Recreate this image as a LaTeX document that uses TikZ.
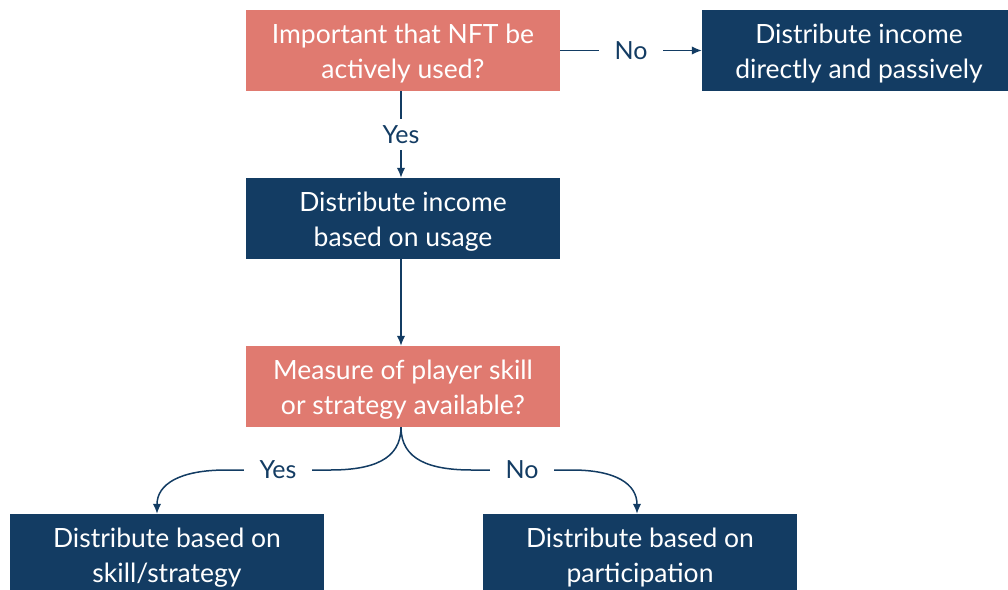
\documentclass[tikz,border=0pt]{standalone}
\usepackage{fontspec}
\setmainfont{Lato}
\usetikzlibrary{arrows.meta}
\definecolor{salmon}{HTML}{E07A70}
\definecolor{navy}{HTML}{133C63}
\newcommand{\lowerstrut}{\rule{0pt}{25pt}}
\begin{document}
\begin{tikzpicture}[x=1pt,y=-1pt,
  box/.style={minimum width=314pt,minimum height=81pt,align=center,text=white,
    font=\fontsize{26.5}{35}\selectfont,inner sep=0pt},
  qbox/.style={box,fill=salmon},
  abox/.style={box,fill=navy},
  conn/.style={draw=navy,line width=1.5pt,-{Latex[length=10pt,width=8.5pt]}},
  lbl/.style={text=navy,font=\fontsize{25}{28}\selectfont,fill=white,inner xsep=16pt,inner ysep=4pt}]
\useasboundingbox (0,0) rectangle (1008,589);
\clip (0,0) rectangle (1008,589);
\node[qbox] (q1) at (403,50.5) {\lowerstrut Important that NFT be\\actively used?};
\node[abox] (d1) at (859,50.5) {\lowerstrut Distribute income\\directly and passively};
\node[abox] (d2) at (403,218.5) {\lowerstrut Distribute income\\based on usage};
\node[qbox] (q2) at (403,386.5) {\lowerstrut Measure of player skill\\or strategy available?};
\node[abox] (s) at (167,554.5) {\lowerstrut Distribute based on\\skill/strategy};
\node[abox] (p) at (640,554.5) {\lowerstrut Distribute based on\\participation};
\coordinate (sIn) at ([xshift=-10pt]s.north);
\coordinate (pIn) at ([xshift=-3pt]p.north);
\draw[conn] (q1.east) -- node[lbl] (lno1) {No} (d1.west);
\draw[conn] ([xshift=-2pt]q1.south) -- node[lbl,inner xsep=4pt,inner ysep=6pt] (lyes1) {Yes} ([xshift=-2pt]d2.north);
\draw[conn] ([xshift=-2pt]d2.south) -- ([xshift=-2pt]q2.north);
\draw[conn] ([xshift=-2pt]q2.south) .. controls (401,460) and (372,470) .. (330,470)
  -- node[lbl] (lyes2) {Yes} (226,470) .. controls (180,470) and (157,484) .. (sIn);
\draw[conn] ([xshift=-2pt]q2.south) .. controls (401,460) and (430,470) .. (472,470)
  -- node[lbl] (lno2) {No} (572,470) .. controls (616,470) and (637,484) .. (pIn);
\end{tikzpicture}
\end{document}
